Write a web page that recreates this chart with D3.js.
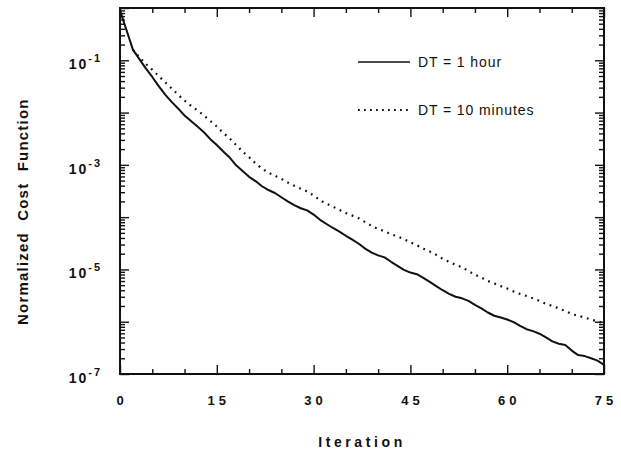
<!DOCTYPE html>
<html>
<head>
<meta charset="utf-8">
<script src="https://cdn.jsdelivr.net/npm/d3@7"></script>
<style>
  html, body { margin: 0; padding: 0; background: #fff; }
  svg { display: block; }
  text { font-family: "Liberation Sans", Arial, Helvetica, sans-serif; fill: #111; }
</style>
</head>
<body>
<svg id="chart" width="621" height="462"></svg>
<script>
// iteration index for both runs
const iterations = d3.range(0, 76);

// DT = 1 hour (solid)
const costHour = [
  0.9, 0.38, 0.16, 0.105, 0.07, 0.048, 0.032, 0.022, 0.016, 0.012,
  8.8e-3, 6.9e-3, 5.4e-3, 4.2e-3, 3.1e-3, 2.4e-3, 1.8e-3, 1.38e-3, 9.8e-4, 7.6e-4,
  5.9e-4, 4.9e-4, 3.9e-4, 3.3e-4, 2.9e-4, 2.4e-4, 2.0e-4, 1.7e-4, 1.48e-4, 1.35e-4,
  1.12e-4, 8.9e-5, 7.4e-5, 6.2e-5, 5.3e-5, 4.4e-5, 3.7e-5, 3.1e-5, 2.5e-5, 2.1e-5,
  1.86e-5, 1.7e-5, 1.4e-5, 1.17e-5, 9.8e-6, 8.7e-6, 8.1e-6, 6.9e-6, 5.8e-6, 4.8e-6,
  4.0e-6, 3.4e-6, 3.0e-6, 2.8e-6, 2.5e-6, 2.1e-6, 1.8e-6, 1.5e-6, 1.3e-6, 1.2e-6,
  1.1e-6, 9.8e-7, 8.3e-7, 7.2e-7, 6.6e-7, 5.9e-7, 5.0e-7, 4.2e-7, 3.8e-7, 3.6e-7,
  2.8e-7, 2.3e-7, 2.2e-7, 2.0e-7, 1.8e-7, 1.5e-7
];

// DT = 10 minutes (dotted)
const costTenMin = [
  0.9, 0.38, 0.16, 0.115, 0.085, 0.066, 0.05, 0.038, 0.029, 0.022,
  0.017, 0.0135, 0.011, 8.8e-3, 6.9e-3, 5.4e-3, 4.1e-3, 3.2e-3, 2.4e-3, 1.8e-3,
  1.4e-3, 1.07e-3, 8.5e-4, 7.1e-4, 6.2e-4, 5.4e-4, 4.6e-4, 4.0e-4, 3.5e-4, 3.1e-4,
  2.6e-4, 2.1e-4, 1.8e-4, 1.58e-4, 1.38e-4, 1.2e-4, 1.07e-4, 9.5e-5, 8.0e-5, 6.8e-5,
  5.9e-5, 5.4e-5, 4.7e-5, 4.3e-5, 3.8e-5, 3.3e-5, 2.9e-5, 2.5e-5, 2.2e-5, 1.9e-5,
  1.6e-5, 1.4e-5, 1.23e-5, 1.1e-5, 9.3e-6, 7.9e-6, 7.0e-6, 6.0e-6, 5.4e-6, 4.8e-6,
  4.3e-6, 3.8e-6, 3.4e-6, 3.1e-6, 2.8e-6, 2.5e-6, 2.2e-6, 2.0e-6, 1.8e-6, 1.6e-6,
  1.4e-6, 1.3e-6, 1.2e-6, 1.1e-6, 1.02e-6, 9.3e-7
];

const xMajor = [0, 15, 30, 45, 60, 75];
const xMinor = [5, 10, 20, 25, 35, 40, 50, 55, 65, 70];
const yLabelExp = [-1, -3, -5, -7];
const seriesNames = ["DT = 1 hour", "DT = 10 minutes"];

const svg = d3.select("#chart");
const box = {left: 120, right: 604, top: 8, bottom: 374};

const x = d3.scaleLinear().domain([0, 75]).range([box.left, box.right]);
const y = d3.scaleLog().domain([1e-7, 1]).range([box.bottom, box.top]);

// log ticks: decades + 2..9 in each decade
const yMajor = d3.range(-7, 1).map(e => Math.pow(10, e));
const yMinor = [];
d3.range(-7, 0).forEach(e => {
  for (let k = 2; k <= 9; k++) yMinor.push(k * Math.pow(10, e));
});

const tickStyle = g => {
  g.select(".domain").remove();
  g.selectAll("line").attr("stroke", "#111").attr("stroke-width", 1.4);
};

// x ticks, bottom and top, pointing inward
svg.append("g").attr("transform", `translate(0,${box.bottom})`)
  .call(d3.axisBottom(x).tickValues(xMajor).tickSize(-9).tickFormat(""))
  .call(tickStyle);
svg.append("g").attr("transform", `translate(0,${box.bottom})`)
  .call(d3.axisBottom(x).tickValues(xMinor).tickSize(-5).tickFormat(""))
  .call(tickStyle);
svg.append("g").attr("transform", `translate(0,${box.top})`)
  .call(d3.axisTop(x).tickValues(xMajor).tickSize(-9).tickFormat(""))
  .call(tickStyle);
svg.append("g").attr("transform", `translate(0,${box.top})`)
  .call(d3.axisTop(x).tickValues(xMinor).tickSize(-5).tickFormat(""))
  .call(tickStyle);

// y ticks, left and right
svg.append("g").attr("transform", `translate(${box.left},0)`)
  .call(d3.axisLeft(y).tickValues(yMajor).tickSize(-9).tickFormat(""))
  .call(tickStyle);
svg.append("g").attr("transform", `translate(${box.left},0)`)
  .call(d3.axisLeft(y).tickValues(yMinor).tickSize(-5).tickFormat(""))
  .call(tickStyle);
svg.append("g").attr("transform", `translate(${box.right},0)`)
  .call(d3.axisRight(y).tickValues(yMajor).tickSize(-9).tickFormat(""))
  .call(tickStyle);
svg.append("g").attr("transform", `translate(${box.right},0)`)
  .call(d3.axisRight(y).tickValues(yMinor).tickSize(-5).tickFormat(""))
  .call(tickStyle);

// frame
svg.append("rect")
  .attr("x", box.left).attr("y", box.top)
  .attr("width", box.right - box.left).attr("height", box.bottom - box.top)
  .attr("fill", "none").attr("stroke", "#111").attr("stroke-width", 2);

// x tick labels
svg.append("g").selectAll("text").data(xMajor).join("text")
  .attr("x", d => x(d) + 2)
  .attr("y", 405)
  .attr("text-anchor", "middle")
  .style("font-size", "13px").style("font-weight", "bold").style("letter-spacing", "4px")
  .text(d => d);

// y tick labels 10^n
const yl = svg.append("g").selectAll("text").data(yLabelExp).join("text")
  .attr("x", 102)
  .attr("y", d => y(Math.pow(10, d)) + 9)
  .attr("text-anchor", "end")
  .style("font-size", "14px").style("font-weight", "bold");
yl.append("tspan").style("letter-spacing", "2px").text("10");
yl.append("tspan").attr("dy", -7).style("font-size", "11px").style("letter-spacing", "2px")
  .text(d => "-" + Math.abs(d));

// axis titles
svg.append("text")
  .attr("transform", "translate(28,325) rotate(-90)")
  .attr("text-anchor", "start")
  .style("font-size", "15px").style("font-weight", "bold")
  .style("letter-spacing", "1.2px").style("word-spacing", "6px")
  .text("Normalized Cost Function");

svg.append("text")
  .attr("x", 362).attr("y", 447)
  .attr("text-anchor", "middle")
  .style("font-size", "14px").style("font-weight", "bold").style("letter-spacing", "3.6px")
  .text("Iteration");

// curves
const line = d3.line()
  .x((d, i) => x(iterations[i]))
  .y(d => y(d));

svg.append("path").datum(costHour)
  .attr("d", line)
  .attr("fill", "none").attr("stroke", "#111").attr("stroke-width", 2)
  .attr("stroke-linejoin", "round");

svg.append("path").datum(costTenMin.slice(2).map((v, i) => v))
  .attr("d", d3.line().x((d, i) => x(iterations[i + 2])).y(d => y(d)))
  .attr("fill", "none").attr("stroke", "#111").attr("stroke-width", 2.2)
  .attr("stroke-dasharray", "1.8,4.8").attr("stroke-linecap", "butt");

// legend
const legend = svg.append("g");
const legendRows = [
  {name: seriesNames[0], y: 62, dash: null},
  {name: seriesNames[1], y: 110, dash: "1.8,4.2"}
];
legendRows.forEach(r => {
  legend.append("line")
    .attr("x1", 358).attr("x2", 410).attr("y1", r.y).attr("y2", r.y)
    .attr("stroke", "#111").attr("stroke-width", r.dash ? 1.8 : 1.6)
    .attr("stroke-dasharray", r.dash);
  legend.append("text")
    .attr("x", 418).attr("y", r.y + 5)
    .style("font-size", "14px").style("letter-spacing", "0.9px")
    .text(r.name);
});
</script>
</body>
</html>
